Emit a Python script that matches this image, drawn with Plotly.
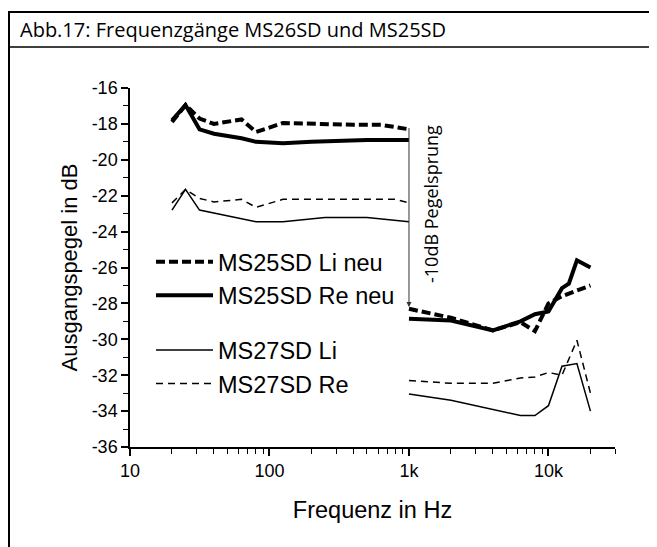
import plotly.graph_objects as go

# ---- data ----
f_li_neu_lo = [20, 25, 31.5, 40, 63, 80, 125, 200, 400, 630, 800, 1000]
v_li_neu_lo = [-17.9, -16.95, -17.7, -18.0, -17.75, -18.45, -17.95, -18.0, -18.05, -18.05, -18.2, -18.3]
f_li_neu_hi = [1000, 2000, 4000, 6300, 8000, 10000, 12500, 20000]
v_li_neu_hi = [-28.3, -28.8, -29.5, -29.05, -29.55, -28.0, -27.6, -27.0]

f_re_neu_lo = [20, 25, 31.5, 40, 63, 80, 125, 200, 500, 1000]
v_re_neu_lo = [-17.8, -16.95, -18.3, -18.55, -18.8, -19.0, -19.08, -19.0, -18.9, -18.9]
f_re_neu_hi = [1000, 2000, 4000, 6300, 8000, 10000, 12500, 14000, 16000, 20000]
v_re_neu_hi = [-28.85, -28.95, -29.5, -29.0, -28.6, -28.45, -27.15, -26.9, -25.6, -26.0]

f_ms27_li_lo = [20, 25, 31.5, 80, 125, 250, 500, 1000]
v_ms27_li_lo = [-22.8, -21.65, -22.8, -23.45, -23.45, -23.22, -23.22, -23.45]
f_ms27_li_hi = [1000, 2000, 6300, 8000, 10000, 12500, 16000, 20000]
v_ms27_li_hi = [-33.05, -33.4, -34.25, -34.25, -33.7, -31.5, -31.35, -34.0]

f_ms27_re_lo = [20, 25, 31.5, 40, 63, 80, 125, 200, 500, 800, 1000]
v_ms27_re_lo = [-22.4, -21.65, -22.15, -22.35, -22.2, -22.65, -22.2, -22.2, -22.2, -22.2, -22.4]
f_ms27_re_hi = [1000, 2000, 4000, 6300, 8000, 10000, 12500, 16000, 20000]
v_ms27_re_hi = [-32.3, -32.45, -32.45, -32.15, -32.1, -31.85, -32.0, -30.05, -33.0]

x_tickvals = [10, 100, 1000, 10000]
x_ticktext = ["10", "100", "1k", "10k"]
y_tickvals = [-36, -34, -32, -30, -28, -26, -24, -22, -20, -18, -16]
y_ticktext = ["-36", "-34", "-32", "-30", "-28", "-26", "-24", "-22", "-20", "-18", "-16"]
jump_freq = 1000
jump_from = -18.15
jump_to = -28.2

title_text = "Abb.17: Frequenzgänge MS26SD und MS25SD"
jump_text = "-10dB Pegelsprung"

# ---- layout constants (pixels); page body has an 8px margin ----
OFF = 8
W, H = 649, 539
L, T = 122, 80
PW, PH = 485, 359
R = W - L - PW
B = H - T - PH


def pxr(x):
    """reference-image x pixel -> paper coordinate"""
    return (x - OFF - L) / PW


def pyr(y):
    """reference-image y pixel -> paper coordinate"""
    return (H - B - (y - OFF)) / PH


def join(a, b):
    return a + [None] + b


fig = go.Figure()
thick = 4
thin = 1.5
fig.add_trace(go.Scatter(x=join(f_li_neu_lo, f_li_neu_hi), y=join(v_li_neu_lo, v_li_neu_hi),
                         mode="lines", name="MS25SD Li neu", legendgroup="a",
                         line=dict(color="black", width=thick, dash="9px,4px")))
fig.add_trace(go.Scatter(x=join(f_re_neu_lo, f_re_neu_hi), y=join(v_re_neu_lo, v_re_neu_hi),
                         mode="lines", name="MS25SD Re neu", legendgroup="a",
                         line=dict(color="black", width=thick)))
fig.add_trace(go.Scatter(x=join(f_ms27_li_lo, f_ms27_li_hi), y=join(v_ms27_li_lo, v_ms27_li_hi),
                         mode="lines", name="MS27SD Li", legendgroup="b",
                         line=dict(color="black", width=thin)))
fig.add_trace(go.Scatter(x=join(f_ms27_re_lo, f_ms27_re_hi), y=join(v_ms27_re_lo, v_ms27_re_hi),
                         mode="lines", name="MS27SD Re", legendgroup="b",
                         line=dict(color="black", width=thin, dash="7px,5px")))

minor_vals = [m * 10 ** d for d in range(1, 5) for m in range(2, 10) if m * 10 ** d <= 30000]

SANS = "Liberation Sans, Arial, sans-serif"
axis_font = dict(family=SANS, size=18, color="black")

fig.update_layout(
    width=W, height=H, autosize=False,
    margin=dict(l=L, r=R, t=T, b=B),
    paper_bgcolor="white", plot_bgcolor="white",
    showlegend=True,
    legend=dict(x=pxr(151), y=pyr(240), xanchor="left", yanchor="top",
                bgcolor="rgba(0,0,0,0)", borderwidth=0,
                font=dict(family=SANS, size=23.5, color="black"),
                itemwidth=57, tracegroupgap=21, traceorder="grouped"),
    xaxis=dict(type="log", range=[1, 4.4771], tickvals=x_tickvals, ticktext=x_ticktext,
               ticks="outside", ticklen=7, tickwidth=1.5, tickcolor="black",
               showline=True, linecolor="black", linewidth=1.5, mirror=False,
               showgrid=False, zeroline=False, tickfont=axis_font,
               minor=dict(tickvals=minor_vals, ticks="outside", ticklen=5, tickwidth=1.2, tickcolor="black"),
               title=dict(text="Frequenz in Hz", font=dict(family=SANS, size=23.5, color="black"), standoff=21)),
    yaxis=dict(range=[-36, -16], tickvals=y_tickvals, ticktext=y_ticktext,
               ticks="outside", ticklen=7, tickwidth=1.5, tickcolor="black",
               showline=True, linecolor="black", linewidth=1.5, mirror=False,
               showgrid=False, zeroline=False, tickfont=axis_font,
               minor=dict(dtick=1, ticks="outside", ticklen=5, tickwidth=1.2, tickcolor="black"),
               title=dict(text="Ausgangspegel in dB", font=dict(family=SANS, size=22, color="black"), standoff=8)),
    shapes=[
        dict(type="rect", xref="paper", yref="paper", x0=pxr(9), x1=pxr(651), y0=pyr(570), y1=pyr(12),
             line=dict(color="black", width=2), layer="above"),
        dict(type="line", xref="paper", yref="paper", x0=pxr(9), x1=pxr(651), y0=pyr(47), y1=pyr(47),
             line=dict(color="black", width=1.5)),
    ],
    annotations=[
        dict(xref="paper", yref="paper", x=pxr(18), y=pyr(29), xanchor="left", yanchor="middle",
             text=title_text, showarrow=False,
             font=dict(family="Open Sans, sans-serif", size=20, color="black")),
        dict(x=3, y=jump_to, ax=3, ay=jump_from, xref="x", yref="y", axref="x", ayref="y",
             text="", showarrow=True, arrowhead=2, arrowsize=1, arrowwidth=1, arrowcolor="#333"),
        dict(xref="paper", yref="paper", x=pxr(431), y=pyr(204), xanchor="center", yanchor="middle",
             text=jump_text, textangle=-90, showarrow=False,
             font=dict(family="Open Sans, sans-serif", size=18, color="black")),
    ],
)

fig.write_html("out.html")
